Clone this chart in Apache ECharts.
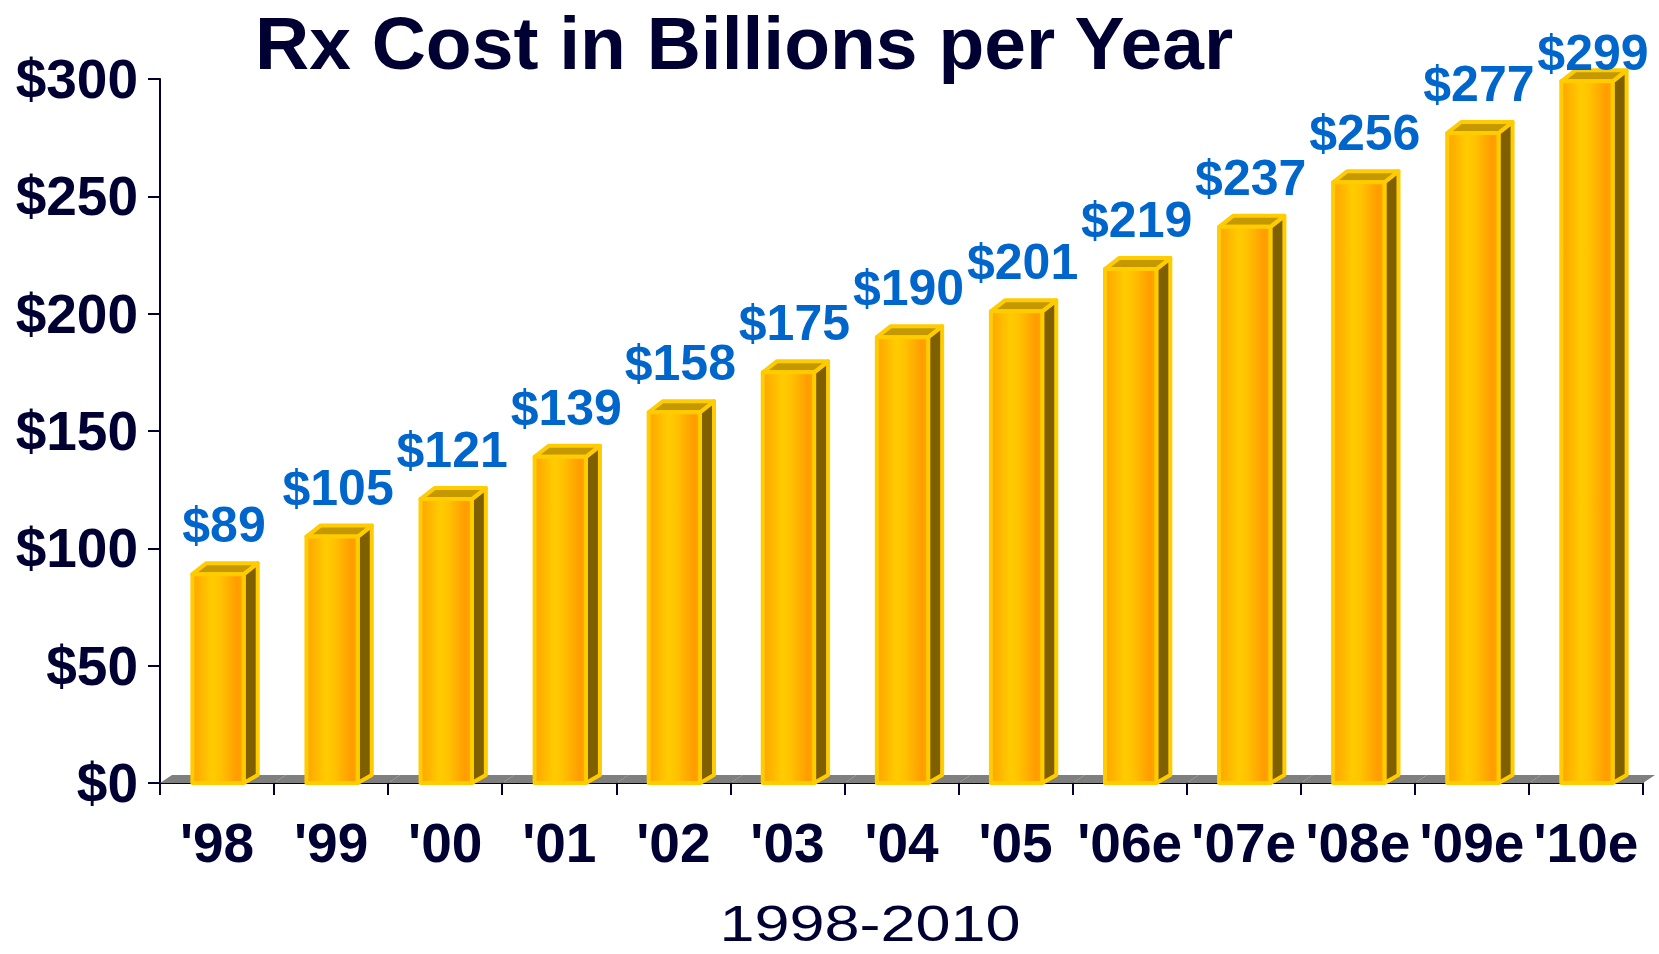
<!DOCTYPE html>
<html>
<head>
<meta charset="utf-8">
<style>
  html, body { margin: 0; padding: 0; background: #ffffff; }
  #chart { width: 1659px; height: 954px; }
</style>
<script src="https://cdn.jsdelivr.net/npm/echarts@6/dist/echarts.min.js"></script>
</head>
<body>
<div id="chart"></div>
<script>
// Prescription drug spending, billions of dollars
const years = ["'98", "'99", "'00", "'01", "'02", "'03", "'04", "'05", "'06e", "'07e", "'08e", "'09e", "'10e"];
const costs = [89, 105, 121, 139, 158, 175, 190, 201, 219, 237, 256, 277, 299];
const yTicks = [0, 50, 100, 150, 200, 250, 300];

const NAVY = '#000033';
const FONT = '"Liberation Sans", Arial, Helvetica, sans-serif';
const DEPTH_X = 14;   // 3-D offset of the bar side/top
const DEPTH_Y = 11;

const chart = echarts.init(document.getElementById('chart'), null, { renderer: 'svg' });

// Grey floor strip under the bars, one slice per category
function renderFloor(params, api) {
  const idx = api.value(0);
  const base = api.coord([idx, 0]);
  const band = api.size([1, 0])[0];
  const x0 = base[0] - band / 2;
  const x1 = base[0] + band / 2;
  const y = base[1];
  return {
    type: 'polygon',
    shape: { points: [[x0, y], [x0 + 12, y - 8], [x1 + 12, y - 8], [x1, y]] },
    style: { fill: '#7F7F7F' }
  };
}

// Gold 3-D column with its value label above it
function renderBar(params, api) {
  const idx = api.value(0);
  const val = api.value(1);
  const top = api.coord([idx, val]);
  const base = api.coord([idx, 0]);
  const band = api.size([1, 0])[0];
  const w = band * 0.45;
  const fx0 = top[0] - w / 2 + 1;
  const fx1 = fx0 + w;
  const fy0 = top[1];
  const fy1 = base[1];
  const edge = { stroke: '#FFCC00', lineWidth: 4, lineJoin: 'round' };
  const gridTop = api.coord([idx, yTicks[yTicks.length - 1]])[1];
  const labelY = Math.max(fy0 - 24, gridTop - 1);
  return {
    type: 'group',
    children: [
      {
        type: 'polygon',
        shape: { points: [[fx1, fy0], [fx1 + DEPTH_X, fy0 - DEPTH_Y], [fx1 + DEPTH_X, fy1 - DEPTH_Y + 3], [fx1, fy1]] },
        style: Object.assign({ fill: '#7F6000' }, edge)
      },
      {
        type: 'polygon',
        shape: { points: [[fx0, fy0], [fx0 + DEPTH_X, fy0 - DEPTH_Y], [fx1 + DEPTH_X, fy0 - DEPTH_Y], [fx1, fy0]] },
        style: Object.assign({ fill: '#C49800' }, edge)
      },
      {
        type: 'rect',
        shape: { x: fx0, y: fy0, width: w, height: fy1 - fy0 },
        style: Object.assign({
          fill: {
            type: 'linear', x: 0, y: 0, x2: 1, y2: 0,
            colorStops: [
              { offset: 0, color: '#FFA400' },
              { offset: 0.38, color: '#FFCC00' },
              { offset: 0.55, color: '#FFC200' },
              { offset: 0.88, color: '#FF9C00' },
              { offset: 1, color: '#FFA800' }
            ]
          }
        }, edge)
      },
      {
        type: 'text',
        style: {
          text: '$' + val,
          x: top[0] + 7,
          y: labelY,
          align: 'center',
          verticalAlign: 'bottom',
          fill: '#0066CC',
          font: 'bold 50px ' + FONT
        }
      }
    ]
  };
}

const option = {
  animation: false,
  backgroundColor: '#ffffff',
  grid: { left: 160, right: 16, top: 79, bottom: 171, containLabel: false },
  xAxis: {
    type: 'category',
    data: years,
    boundaryGap: true,
    axisLine: { lineStyle: { color: NAVY, width: 2 } },
    axisTick: { show: true, length: 12, lineStyle: { color: NAVY, width: 2 } },
    axisLabel: {
      interval: 0,
      margin: 32,
      color: NAVY,
      fontFamily: FONT,
      fontWeight: 'bold',
      fontSize: 55
    }
  },
  yAxis: {
    type: 'value',
    min: yTicks[0],
    max: yTicks[yTicks.length - 1],
    interval: yTicks[1] - yTicks[0],
    splitLine: { show: false },
    axisLine: { show: true, lineStyle: { color: NAVY, width: 2 } },
    axisTick: { show: true, length: 12, lineStyle: { color: NAVY, width: 2 } },
    axisLabel: {
      margin: 22,
      color: NAVY,
      fontFamily: FONT,
      fontWeight: 'bold',
      fontSize: 55,
      formatter: v => '$' + v
    }
  },
  graphic: [
    {
      type: 'text',
      left: 747 - 492, top: 5,
      style: {
        text: 'Rx Cost in Billions per Year',
        fill: NAVY,
        font: 'bold 75px ' + FONT
      }
    },
    {
      type: 'text',
      x: 870, y: 949,
      scaleX: 1.26,
      style: {
        text: '1998-2010',
        fill: NAVY,
        align: 'center',
        verticalAlign: 'bottom',
        font: '50px ' + FONT
      }
    }
  ],
  series: [
    {
      type: 'custom',
      z: 1,
      renderItem: renderFloor,
      data: costs.map((v, i) => [i, v]),
      silent: true
    },
    {
      type: 'custom',
      z: 2,
      renderItem: renderBar,
      data: costs.map((v, i) => [i, v]),
      clip: false
    }
  ]
};

chart.setOption(option);
</script>
</body>
</html>
